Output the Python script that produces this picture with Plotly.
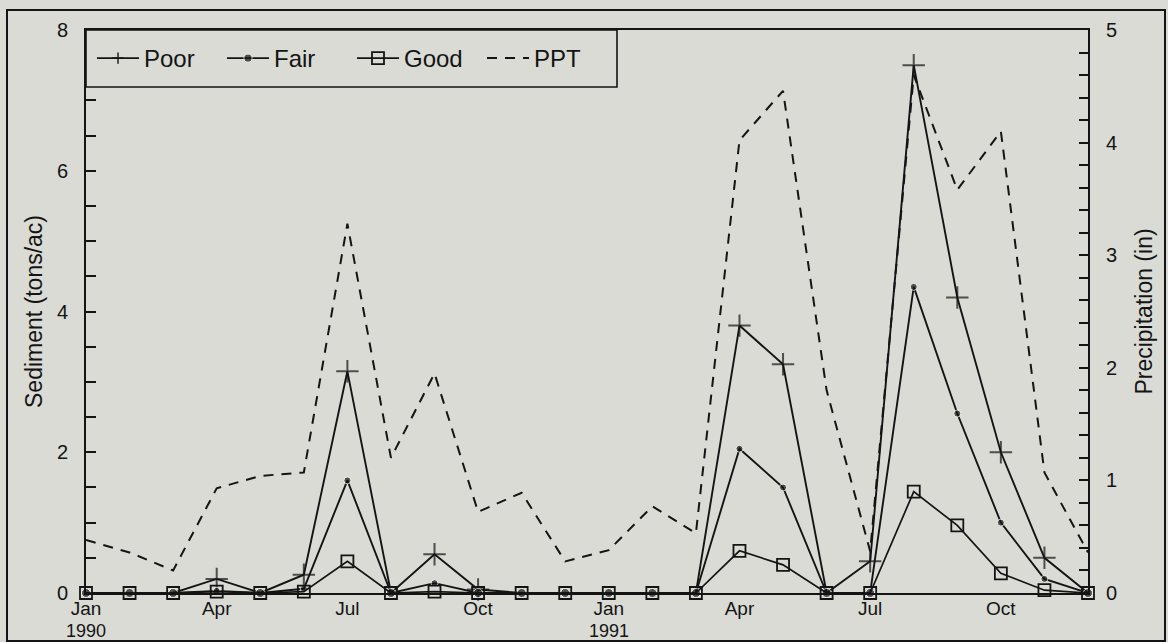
import plotly.graph_objects as go

# ---------------- data ----------------
months = ["Jan 1990", "Feb 1990", "Mar 1990", "Apr 1990", "May 1990", "Jun 1990",
          "Jul 1990", "Aug 1990", "Sep 1990", "Oct 1990", "Nov 1990", "Dec 1990",
          "Jan 1991", "Feb 1991", "Mar 1991", "Apr 1991", "May 1991", "Jun 1991",
          "Jul 1991", "Aug 1991", "Sep 1991", "Oct 1991", "Nov 1991", "Dec 1991"]

poor = [0, 0, 0, 0.2, 0, 0.26, 3.15, 0, 0.55, 0.05, 0, 0,
        0, 0, 0, 3.8, 3.25, 0, 0.45, 7.5, 4.2, 2.0, 0.5, 0]
fair = [0, 0, 0, 0.03, 0, 0.06, 1.6, 0, 0.14, 0, 0, 0,
        0, 0, 0, 2.05, 1.5, 0, 0, 4.35, 2.55, 1.0, 0.2, 0]
good = [0, 0, 0, 0.02, 0, 0.02, 0.45, 0, 0.02, 0, 0, 0,
        0, 0, 0, 0.6, 0.4, 0, 0, 1.44, 0.96, 0.28, 0.04, 0]
ppt = [0.47, 0.36, 0.2, 0.93, 1.04, 1.07, 3.28, 1.2, 1.95, 0.72, 0.89, 0.28,
       0.38, 0.77, 0.53, 4.02, 4.46, 1.8, 0.37, 4.6, 3.58, 4.1, 1.07, 0.36]

tick_months = ["Jan 1990", "Apr 1990", "Jul 1990", "Oct 1990",
               "Jan 1991", "Apr 1991", "Jul 1991", "Oct 1991"]
tick_labels = ["Jan", "Apr", "Jul", "Oct", "Jan", "Apr", "Jul", "Oct"]
year_months = ["Jan 1990", "Jan 1991"]
year_labels = ["1990", "1991"]

left_ticks = [0, 2, 4, 6, 8]
right_ticks = [0, 1, 2, 3, 4, 5]

# ---------------- style ----------------
BG = "#d9dbd4"
INK = "#141414"
FONT = "Liberation Sans, Arial, Helvetica, sans-serif"

W, H = 1168, 642
L, R, T, B = 86, 80, 30, 49
PW, PH = W - L - R, H - T - B


def px_x(p):
    return (p - L) / PW


def px_y(p):
    return (H - B - p) / PH


# zero-valued points show only as small dark blobs in the original
poor_sizes = [16 if v > 0 else 0 for v in poor]
fair_sizes = [7 if v > 0 else 9 for v in fair]

fig = go.Figure()

fig.add_trace(go.Scatter(
    x=months, y=poor, name="Poor", mode="lines+markers",
    line=dict(color=INK, width=1.9),
    marker=dict(symbol="cross-thin", size=poor_sizes, line=dict(color=INK, width=2)),
    cliponaxis=False))
fig.add_trace(go.Scatter(
    x=months, y=fair, name="Fair", mode="lines+markers",
    line=dict(color=INK, width=1.9),
    marker=dict(symbol="circle", size=fair_sizes, color=INK),
    cliponaxis=False))
fig.add_trace(go.Scatter(
    x=months, y=good, name="Good", mode="lines+markers",
    line=dict(color=INK, width=1.7),
    marker=dict(symbol="square-open", size=12, color=INK, line=dict(color=INK, width=1.8)),
    cliponaxis=False))
fig.add_trace(go.Scatter(
    x=months, y=ppt, name="PPT", mode="lines", yaxis="y2",
    line=dict(color=INK, width=2, dash="10px,8px"),
    cliponaxis=False))

for m, lab in zip(year_months, year_labels):
    fig.add_annotation(x=m, y=px_y(631), xref="x", yref="paper", text=lab,
                       showarrow=False, yanchor="middle", xanchor="center",
                       font=dict(family=FONT, size=18, color=INK))

# legend frame and outer frame
fig.add_shape(type="rect", xref="paper", yref="paper",
              x0=px_x(86), x1=px_x(617), y0=px_y(87), y1=px_y(30),
              line=dict(color=INK, width=1.6), fillcolor=BG, layer="above")
fig.add_shape(type="rect", xref="paper", yref="paper",
              x0=px_x(7), x1=px_x(1165), y0=px_y(641), y1=px_y(10),
              line=dict(color=INK, width=2), fillcolor="rgba(0,0,0,0)", layer="above")

TITLE_FONT = dict(family=FONT, size=23, color=INK)
TICK_FONT = dict(family=FONT, size=20, color=INK)

fig.update_layout(
    width=W, height=H,
    margin=dict(l=L, r=R, t=T, b=B, autoexpand=False),
    paper_bgcolor=BG, plot_bgcolor=BG,
    font=dict(family=FONT, color=INK, size=20),
    showlegend=True,
    legend=dict(orientation="h", x=px_x(92), y=px_y(58.5), xanchor="left", yanchor="middle",
                bgcolor="rgba(0,0,0,0)", borderwidth=0,
                font=dict(family=FONT, size=24, color=INK),
                itemwidth=42, entrywidth=73, entrywidthmode="pixels",
                itemclick=False),
    xaxis=dict(type="category", categoryorder="array", categoryarray=months,
               range=[0, 23], tickmode="array", tickvals=tick_months, ticktext=tick_labels,
               ticks="", showline=True, linecolor=INK, linewidth=1.8, mirror=True,
               showgrid=False, zeroline=False, ticklabelstandoff=-3,
               tickfont=dict(family=FONT, size=19, color=INK)),
    yaxis=dict(range=[0, 8], tickmode="array", tickvals=left_ticks,
               ticks="inside", ticklen=10, tickwidth=1.5, tickcolor=INK,
               minor=dict(dtick=0.5, ticks="inside", ticklen=10, tickwidth=1.5, tickcolor=INK),
               showline=True, linecolor=INK, linewidth=1.8,
               showgrid=False, zeroline=False, ticklabelstandoff=12,
               tickfont=TICK_FONT,
               title=dict(text="Sediment (tons/ac)", standoff=8, font=TITLE_FONT)),
    yaxis2=dict(range=[0, 5], overlaying="y", side="right", tickmode="array",
                tickvals=right_ticks,
                ticks="inside", ticklen=9, tickwidth=1.5, tickcolor=INK,
                minor=dict(dtick=0.2, ticks="inside", ticklen=9, tickwidth=1.5, tickcolor=INK),
                showline=True, linecolor=INK, linewidth=1.8,
                showgrid=False, zeroline=False, ticklabelstandoff=12,
                tickfont=TICK_FONT,
                title=dict(text="Precipitation (in)", standoff=20, font=TITLE_FONT)),
)

fig.write_html("out.html", config={"displayModeBar": False},
               post_script="document.body.style.margin='0';")
